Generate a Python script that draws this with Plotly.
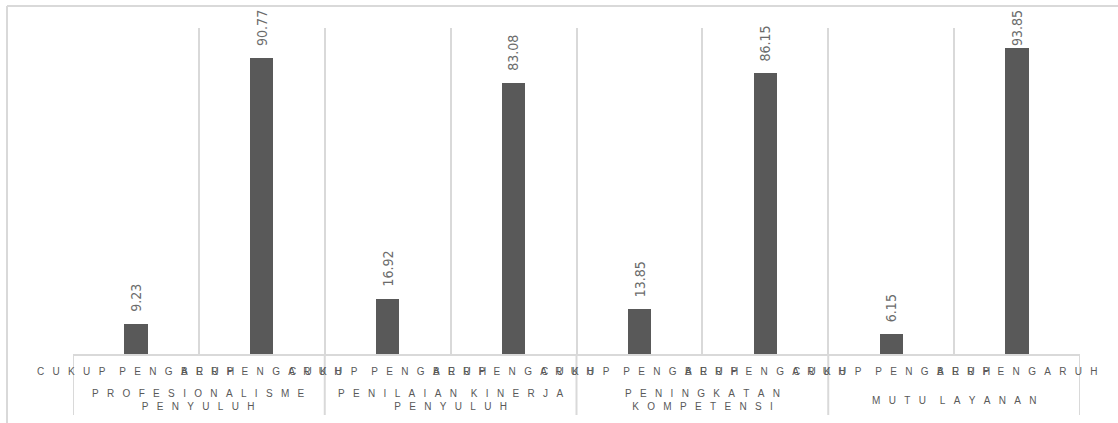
import plotly.graph_objects as go

# ---- data ----
group_labels = [
    ["PROFESIONALISME", "PENYULUH"],
    ["PENILAIAN KINERJA", "PENYULUH"],
    ["PENINGKATAN", "KOMPETENSI"],
    ["MUTU LAYANAN"],
]
sub_labels = ["CUKUP PENGARUH", "BERPENGARUH"]
cukup_pengaruh = [9.23, 16.92, 13.85, 6.15]
berpengaruh = [90.77, 83.08, 86.15, 93.85]

# ---- layout constants (pixels) ----
W, H = 1118, 423
L, R, T, B = 73, 38, 28, 69
PW, PH = W - L - R, H - T - B
GRID = "#d9d9d9"
BAR = "#595959"
TXT = "#595959"
LBL = "#6b6b6b"

values = []
for c, b in zip(cukup_pengaruh, berpengaruh):
    values += [c, b]
xs = list(range(len(values)))

LETTER_SEP = "\u00a0" * 3
WORD_SEP = "\u00a0" * 5


def spaced(s):
    words = s.split(" ")
    return WORD_SEP.join(LETTER_SEP.join(list(w)) for w in words)


fig = go.Figure()
fig.add_trace(go.Bar(x=xs, y=values, width=0.185, marker=dict(color=BAR, line=dict(width=0)),
                     hoverinfo="skip"))

annotations = []
# data labels (rotated, kept inside the chart area like the original)
label_len = 36
for x, v in zip(xs, values):
    top_px = T + (100 - v) / 100 * PH
    shift = min(10, top_px - 12 - label_len)
    annotations.append(dict(
        x=x, y=v, xref="x", yref="y", text=f"{v}",
        textangle=-90, showarrow=False, xanchor="center", yanchor="bottom", yshift=shift,
        font=dict(family="Liberation Sans Narrow, DejaVu Sans Condensed, Liberation Sans, sans-serif",
                  size=14, color=LBL),
    ))

# sub-category labels
for x in xs:
    annotations.append(dict(
        x=x, y=-(371 - (T + PH)) / PH, xref="x", yref="paper", text=spaced(sub_labels[x % 2]),
        showarrow=False, xanchor="center", yanchor="middle",
        font=dict(family="Liberation Sans, Arial, sans-serif", size=10, color=TXT),
    ))

# group labels
for g, lines in enumerate(group_labels):
    annotations.append(dict(
        x=g * 2 + 0.5, y=-(400 - (T + PH)) / PH, xref="x", yref="paper",
        text="<br>".join(spaced(l) for l in lines),
        showarrow=False, xanchor="center", yanchor="middle",
        font=dict(family="Liberation Sans, Arial, sans-serif", size=10, color=TXT),
    ))

shapes = []
# group divider lines below the axis
for bnd in [g * 2 - 0.5 for g in range(len(group_labels) + 1)]:
    shapes.append(dict(type="line", xref="x", yref="paper", x0=bnd, x1=bnd,
                       y0=0, y1=-(415 - (T + PH)) / PH, line=dict(color=GRID, width=2)))
# outer chart border (top and left edges visible)
shapes.append(dict(type="line", xref="paper", yref="paper",
                   x0=(7 - L) / PW, x1=(W + 5 - L) / PW,
                   y0=1 + (T - 6) / PH, y1=1 + (T - 6) / PH,
                   line=dict(color=GRID, width=2), layer="below"))
shapes.append(dict(type="line", xref="paper", yref="paper",
                   x0=(7 - L) / PW, x1=(7 - L) / PW,
                   y0=-(H + 5 - (T + PH)) / PH, y1=1 + (T - 6) / PH,
                   line=dict(color=GRID, width=2), layer="below"))

fig.update_layout(
    width=W, height=H,
    margin=dict(l=L, r=R, t=T, b=B, pad=0),
    paper_bgcolor="white", plot_bgcolor="white",
    showlegend=False,
    bargap=0,
    xaxis=dict(range=[-0.5, len(values) - 0.5], tickvals=[i - 0.5 for i in range(len(values) + 1)],
               showticklabels=False, ticks="", showgrid=True, gridcolor=GRID, gridwidth=2,
               zeroline=False, showline=True, linecolor=GRID, linewidth=2, fixedrange=True),
    yaxis=dict(range=[0, 100], visible=False, showgrid=False, zeroline=False, fixedrange=True),
    annotations=annotations,
    shapes=shapes,
)

fig.write_html("out.html", config={"displayModeBar": False})
